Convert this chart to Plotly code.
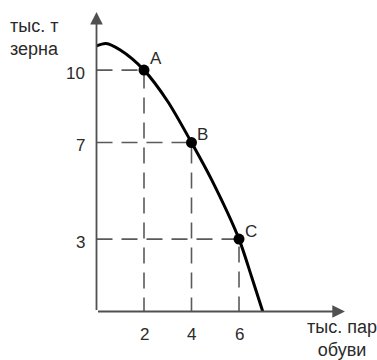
import plotly.graph_objects as go

# production possibilities curve
curve_x = [0, 0.4, 1, 2, 3, 4, 4.85, 6, 6.53, 7]
curve_y = [11.0, 11.1, 10.83, 10, 8.7, 7, 5.45, 3, 1.44, 0]

# marked points
point_names = ["A", "B", "C"]
point_x = [2, 4, 6]
point_y = [10, 7, 3]

# tick labels
x_ticks = [2, 4, 6]
y_ticks = [10, 7, 3]

W, H = 377, 360
x_range = [-4.063, 11.81]
y_range = [-2.009, 12.904]
x_end, y_end = 10.46, 12.41

font = "Liberation Sans, Arial, sans-serif"
axis_col = "#505050"
dash_col = "#5a5a5a"
text_col = "#2a2a2a"

fig = go.Figure()

# dashed guide lines to each point
for px, py in zip(point_x, point_y):
    fig.add_trace(go.Scatter(
        x=[0, px, px], y=[py, py, 0], mode="lines",
        line=dict(color=dash_col, width=1.6, dash="16px,9px"),
        hoverinfo="skip"))

# axes with arrows
fig.add_annotation(x=0, y=y_end, ax=0, ay=0, xref="x", yref="y",
                   axref="x", ayref="y", showarrow=True, arrowhead=2,
                   arrowsize=1.4, arrowwidth=1.8, arrowcolor=axis_col, text="")
fig.add_annotation(x=x_end, y=0, ax=0, ay=0, xref="x", yref="y",
                   axref="x", ayref="y", showarrow=True, arrowhead=2,
                   arrowsize=1.4, arrowwidth=1.8, arrowcolor=axis_col, text="")

# curve
fig.add_trace(go.Scatter(
    x=curve_x, y=curve_y, mode="lines",
    line=dict(color="black", width=3, shape="spline", smoothing=0.8),
    hoverinfo="skip"))

# points
fig.add_trace(go.Scatter(
    x=point_x, y=point_y, mode="markers",
    marker=dict(color="black", size=11), hoverinfo="skip"))

# point labels
shifts = [(12, 12), (11, 8), (12, 8)]
for name, px, py, (dx, dy) in zip(point_names, point_x, point_y, shifts):
    fig.add_annotation(x=px, y=py, text=name, showarrow=False,
                       xshift=dx, yshift=dy,
                       font=dict(family=font, size=17, color=text_col))

# tick labels
for t in x_ticks:
    fig.add_annotation(x=t, y=0, text=str(t), showarrow=False, yshift=-23,
                       font=dict(family=font, size=17, color=text_col))
for t in y_ticks:
    fig.add_annotation(x=0, y=t, text=str(t), showarrow=False, xanchor="right",
                       xshift=-10, yshift=-3,
                       font=dict(family=font, size=17, color=text_col))

# axis titles
fig.add_annotation(xref="paper", yref="paper", x=8 / W, y=1 - 38 / H,
                   text="тыс. т<br>зерна", showarrow=False, xanchor="left",
                   yanchor="middle", align="left",
                   font=dict(family=font, size=18, color=text_col))
fig.add_annotation(xref="paper", yref="paper", x=342 / W, y=1 - 338 / H,
                   text="тыс. пар<br>обуви", showarrow=False, xanchor="center",
                   yanchor="middle", align="center",
                   font=dict(family=font, size=18, color=text_col))

fig.update_layout(
    width=W, height=H, autosize=False,
    margin=dict(l=0, r=0, t=0, b=0),
    plot_bgcolor="white", paper_bgcolor="white",
    showlegend=False,
    xaxis=dict(range=x_range, visible=False, fixedrange=True),
    yaxis=dict(range=y_range, visible=False, fixedrange=True),
)

fig.write_html("out.html", config=dict(displayModeBar=False),
               post_script="document.body.style.margin='0';")
